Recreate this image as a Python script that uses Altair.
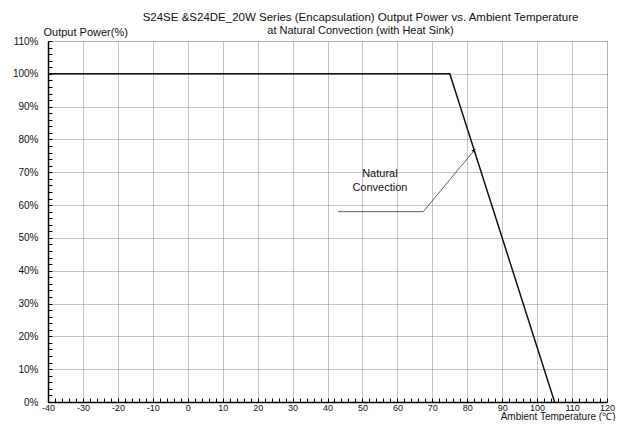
import altair as alt
import pandas as pd

# Derating curve (Ambient temperature in degC, output power in %)
curve_temp = [-40, 75, 105]
curve_power = [100, 100, 0]

# Annotation leader line
lead_temp = [43, 67.4, 82]
lead_power = [58, 58, 76.7]
label_text = ["Natural", "Convection"]
label_temp = [55]
label_power = [69.6]

x_major = list(range(-40, 121, 10))
x_minor = list(range(-40, 121, 2))
y_major = list(range(0, 111, 10))
y_minor = list(range(0, 111, 2))

title_line1 = "S24SE &S24DE_20W Series (Encapsulation)  Output Power vs. Ambient Temperature"
title_line2 = "at Natural Convection (with Heat Sink)"

curve = pd.DataFrame({"t": curve_temp, "p": curve_power})
lead = pd.DataFrame({"t": lead_temp, "p": lead_power, "o": [0, 1, 2]})
tip = pd.DataFrame({"t": lead_temp[-1:], "p": lead_power[-1:]})
lab = pd.DataFrame({"t": label_temp, "p": label_power})

FONT = "Liberation Sans"
xs = alt.Scale(domain=[-40, 120], nice=False, zero=False)
ys = alt.Scale(domain=[0, 110], nice=False)

main = alt.Chart(curve).mark_line(color="#111", strokeWidth=1.5).encode(
    x=alt.X("t:Q", scale=xs, axis=alt.Axis(
        values=x_major, grid=True, gridColor="#8a8a8a", gridDash=[1, 1], gridWidth=1,
        ticks=False, tickSize=0, domainColor="#000", domainWidth=1.5, labelFont=FONT,
        labelFontSize=9, labelColor="#111", labelPadding=1, labelFlush=False,
        labelExpr="'' + datum.value",
        title="Ambient Temperature (℃)", titleFont=FONT, titleFontSize=10, titleFontWeight="normal",
        titleColor="#111", titleAlign="right", titleBaseline="alphabetic", titleX=567, titleY=17)),
    y=alt.Y("p:Q", scale=ys, axis=alt.Axis(
        values=y_major, grid=True, gridColor="#8a8a8a", gridDash=[1, 1], gridWidth=1,
        ticks=False, tickSize=0, domainColor="#000", domainWidth=1.5, labelFont=FONT,
        labelFontSize=10, labelColor="#111", labelPadding=10, labelExpr="datum.value + '%'",
        title="Output Power(%)", titleFont=FONT, titleFontSize=11, titleFontWeight="normal",
        titleColor="#111", titleAngle=0, titleAlign="left", titleBaseline="middle",
        titleX=-5, titleY=-9)),
    order=alt.Order("t:Q"),
)

minor = alt.Chart(curve).mark_line(opacity=0).encode(
    x=alt.X("t:Q", scale=xs, axis=alt.Axis(
        orient="bottom", values=x_minor, labels=False, grid=False, domain=False,
        ticks=True, tickSize=4, tickColor="#000", tickWidth=1, offset=-4, title=None)),
    y=alt.Y("p:Q", scale=ys, axis=alt.Axis(
        orient="left", values=y_minor, labels=False, grid=False, domain=False,
        ticks=True, tickSize=4, tickColor="#000", tickWidth=1, offset=-4, title=None)),
)

leader = alt.Chart(lead).mark_line(color="#333", strokeWidth=0.8).encode(
    x=alt.X("t:Q", scale=xs, axis=None),
    y=alt.Y("p:Q", scale=ys, axis=None),
    order="o:Q",
)

arrow = alt.Chart(tip).mark_point(shape="triangle-up", filled=True, color="#000",
                                  size=18, angle=40, opacity=1).encode(
    x=alt.X("t:Q", scale=xs, axis=None),
    y=alt.Y("p:Q", scale=ys, axis=None),
)

text = alt.Chart(lab).mark_text(text=label_text, font=FONT, fontSize=11, color="#111",
                                align="center", baseline="middle", lineHeight=14).encode(
    x=alt.X("t:Q", scale=xs, axis=None),
    y=alt.Y("p:Q", scale=ys, axis=None),
)

chart = alt.layer(main, minor, leader, arrow, text).resolve_axis(
    x="independent", y="independent"
).properties(
    width=559,
    height=361,
    autosize=alt.AutoSizeParams(type="none"),
    padding={"left": 40, "top": 33, "right": 9, "bottom": 19},
    title=alt.TitleParams(
        text=title_line1,
        subtitle=title_line2 + "\u00a0" * 8,
        font=FONT, fontSize=11.5, fontWeight="normal", color="#111", anchor="middle",
        subtitleFont=FONT, subtitleFontSize=11, subtitleColor="#111", subtitlePadding=2,
        dx=33, offset=-10,
    ),
).configure_view(stroke="#777", strokeWidth=1).configure(background="white")

chart.save("out.html", embed_options={"renderer": "svg", "actions": False})
